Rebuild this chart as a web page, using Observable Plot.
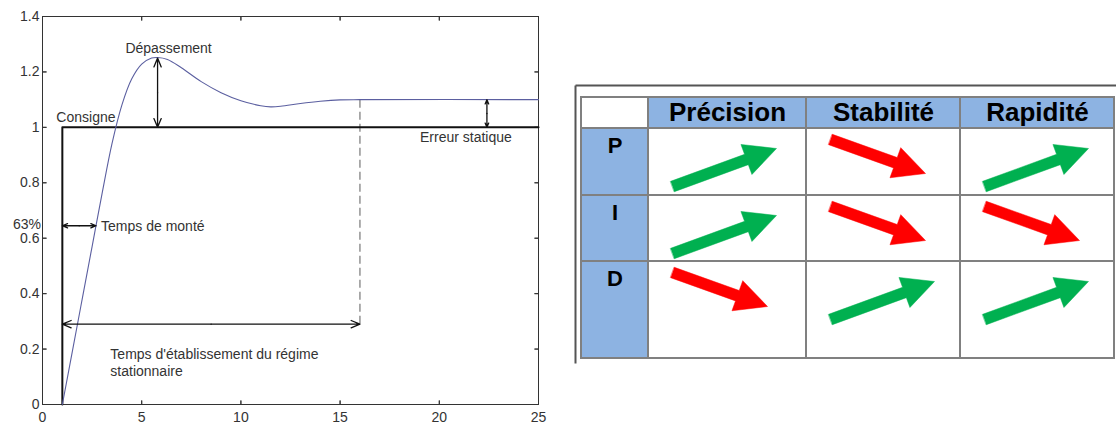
<!DOCTYPE html>
<html>
<head>
<meta charset="utf-8">
<script src="https://cdn.jsdelivr.net/npm/d3@7"></script>
<script src="https://cdn.jsdelivr.net/npm/@observablehq/plot@0.6"></script>
<style>
  body { margin: 0; background: #fff; }
  #page { position: relative; width: 1116px; height: 428px; overflow: hidden; background: #fff;
          font-family: "Liberation Sans", Arial, sans-serif; }
  #response { position: absolute; left: 0; top: 0; }
  #pid { position: absolute; left: 570px; top: 80px; }
</style>
</head>
<body>
<div id="page">
  <div id="response"></div>
  <div id="pid"></div>
</div>
<script>
// ---------- Step response of the closed loop ----------
const time   = [1, 1.5, 2, 2.5, 3, 3.5, 4, 4.5, 5, 5.5, 5.8, 6.3, 7, 8, 9, 10, 11, 11.5, 12, 13, 14, 15, 16, 25];
const output = [0, 0.19, 0.38, 0.57, 0.76, 0.94, 1.08, 1.175, 1.228, 1.25, 1.252, 1.245, 1.215, 1.165, 1.125, 1.096, 1.078, 1.074, 1.076, 1.086, 1.094, 1.099, 1.1, 1.1];

const xTicks = [0, 5, 10, 15, 20, 25];
const yTicks = [0, 0.2, 0.4, 0.6, 0.8, 1, 1.2, 1.4];

// Characteristic values of the response
const stepTime = 1;        // instant of the setpoint step
const setpoint = 1;        // consigne
const peakTime = 5.8;      // time of the overshoot peak
const peakValue = 1.25;    // overshoot peak
const finalValue = 1.1;    // steady-state value
const riseLevel = 0.645;   // 63 % level
const riseTime = 2.7;      // time the output reaches 63 %
const settlingTime = 16;   // end of the transient
const settlingLevel = 0.29;
const errorTime = 22.4;

// ---------- PID action table ----------
const criteria = ["Précision", "Stabilité", "Rapidité"];
const actions = ["P", "I", "D"];
// +1: the action improves the criterion, -1: it degrades it
const effects = [
  [+1, -1, +1],
  [+1, -1, -1],
  [-1, +1, +1]
];

// ---------- Chart 1: step response ----------
const curve = time.map((t, i) => ({t, v: output[i]}));
const step = [
  {t: stepTime, v: 0},
  {t: stepTime, v: setpoint},
  {t: xTicks[xTicks.length - 1], v: setpoint}
];
// double-headed dimension arrows, drawn as two arrows from their midpoint
const dimensions = [
  {x1: peakTime, y1: setpoint, x2: peakTime, y2: peakValue},
  {x1: stepTime, y1: riseLevel, x2: riseTime, y2: riseLevel},
  {x1: stepTime, y1: settlingLevel, x2: settlingTime, y2: settlingLevel},
  {x1: errorTime, y1: setpoint, x2: errorTime, y2: finalValue}
];
const halves = dimensions.flatMap(({x1, y1, x2, y2}) => {
  const mx = (x1 + x2) / 2, my = (y1 + y2) / 2;
  return [{x1: mx, y1: my, x2: x1, y2: y1}, {x1: mx, y1: my, x2: x2, y2: y2}];
});

const fmt = d3.format("~g");
const ink = "#333";
const tick = {length: 4, anchor: "start", shape: "spike", r: 0, stroke: ink, strokeWidth: 1};
const txt = {fontSize: 14, fill: ink};

const chart = Plot.plot({
  width: 560,
  height: 428,
  marginLeft: 42,
  marginRight: 22,
  marginTop: 16,
  marginBottom: 24,
  x: {domain: [0, 25]},
  y: {domain: [0, 1.4]},
  style: {fontFamily: '"Liberation Sans", Arial, sans-serif', fontSize: "14px", color: ink, background: "transparent", overflow: "visible"},
  marks: [
    Plot.axisX({ticks: xTicks, tickSize: 0, tickPadding: 8, label: null, tickFormat: fmt}),
    Plot.axisY({ticks: yTicks, tickSize: 0, tickPadding: 3, label: null, tickFormat: fmt}),
    // inward tick marks on the four sides of the box
    Plot.vector(xTicks, {x: d => d, y: 0, rotate: 0, ...tick}),
    Plot.vector(xTicks, {x: d => d, y: 1.4, rotate: 180, ...tick}),
    Plot.vector(yTicks, {x: 0, y: d => d, rotate: 90, ...tick}),
    Plot.vector(yTicks, {x: 25, y: d => d, rotate: 270, ...tick}),
    Plot.frame({stroke: ink, strokeWidth: 1}),
    // settling time marker
    Plot.link([settlingTime], {x1: d => d, x2: d => d, y1: finalValue, y2: settlingLevel - 0.006,
      stroke: "#777", strokeWidth: 1.2, strokeDasharray: "8,4"}),
    // setpoint step
    Plot.line(step, {x: "t", y: "v", stroke: "#111", strokeWidth: 2}),
    // measured output
    Plot.line(curve, {x: "t", y: "v", stroke: "#5b5fa0", strokeWidth: 1.1, curve: "catmull-rom"}),
    // dimension arrows
    Plot.arrow(halves, {x1: "x1", y1: "y1", x2: "x2", y2: "y2", stroke: "#111", strokeWidth: 1.3,
      headLength: 11, headAngle: 45}),
    // annotations
    Plot.text(["Dépassement"], {x: peakTime, y: peakValue, dx: 11, dy: -10, ...txt}),
    Plot.text(["Consigne"], {x: stepTime, y: setpoint, dx: -6, dy: -9.5, textAnchor: "start", ...txt}),
    Plot.text(["63%"], {x: 0, y: riseLevel, dx: -1.5, dy: -1.5, textAnchor: "end", ...txt}),
    Plot.text(["Temps de monté"], {x: riseTime, y: riseLevel, dx: 5, dy: 1, textAnchor: "start", ...txt}),
    Plot.text(["Temps d'établissement du régime\nstationnaire"], {x: stepTime, y: settlingLevel, dx: 48, dy: 23,
      textAnchor: "start", lineAnchor: "top", lineHeight: 1.19, ...txt}),
    Plot.text(["Erreur statique"], {x: errorTime, y: setpoint, dx: -21, dy: 10.5, ...txt})
  ]
});
document.getElementById("response").appendChild(chart);

// ---------- Chart 2: effect of each PID action ----------
const W2 = 546, H2 = 285;
const colW = [67, 158, 154, 154];
const rowH = [31, 67, 66, 97];
const x0 = 11, y0 = 17;
const colX = colW.reduce((a, w) => (a.push(a[a.length - 1] + w), a), [x0]);
const rowY = rowH.reduce((a, h) => (a.push(a[a.length - 1] + h), a), [y0]);
const blue = "#8db3e2", green = "#00b050", red = "#ff0000", grid = "#808080";

const cells = [];
for (let r = 0; r < 4; r++) {
  for (let c = 0; c < 4; c++) {
    cells.push({
      x1: colX[c], x2: colX[c + 1], y1: rowY[r], y2: rowY[r + 1],
      fill: (r === 0) !== (c === 0) ? blue : "#fff"
    });
  }
}
const headers = criteria.map((label, c) => ({label, x: (colX[c + 1] + colX[c + 2]) / 2, y: (rowY[0] + rowY[1]) / 2}));
const rowLabels = actions.map((label, r) => ({label, x: (colX[0] + colX[1]) / 2, y: rowY[r + 1]}));

// block arrow outline: shaft half-width, head half-width, head length
const SHAFT = 5.5, HEAD_W = 16, HEAD_L = 32;
function blockArrow(id, ax, ay, bx, by) {
  const len = Math.hypot(bx - ax, by - ay);
  const ux = (bx - ax) / len, uy = (by - ay) / len, nx = -uy, ny = ux;
  const cx = bx - ux * HEAD_L, cy = by - uy * HEAD_L;
  return [
    [ax + nx * SHAFT, ay + ny * SHAFT],
    [cx + nx * SHAFT, cy + ny * SHAFT],
    [cx + nx * HEAD_W, cy + ny * HEAD_W],
    [bx, by],
    [cx - nx * HEAD_W, cy - ny * HEAD_W],
    [cx - nx * SHAFT, cy - ny * SHAFT],
    [ax - nx * SHAFT, ay - ny * SHAFT]
  ].map(([x, y]) => ({id, x, y}));
}
// rising arrow for an improvement, falling arrow for a degradation (offsets inside a cell)
const upShape = [24, 58, 128, 20];
const downShape = [24, 11, 119, 45];
const upPts = [], downPts = [];
effects.forEach((row, r) => row.forEach((e, c) => {
  const [a, b, p, q] = e > 0 ? upShape : downShape;
  const cx = colX[c + 1], cy = rowY[r + 1];
  (e > 0 ? upPts : downPts).push(...blockArrow(`${r}-${c}`, cx + a, cy + b, cx + p, cy + q));
}));

const table = Plot.plot({
  width: W2,
  height: H2,
  margin: 0,
  x: {domain: [0, W2], range: [0, W2], axis: null},
  y: {domain: [0, H2], range: [0, H2], axis: null},
  style: {fontFamily: '"Liberation Sans", Arial, sans-serif', background: "transparent", overflow: "visible"},
  marks: [
    // outer frame
    Plot.link([0], {x1: 5, x2: W2, y1: 5, y2: 5, stroke: "#555", strokeWidth: 2}),
    Plot.link([0], {x1: 5, x2: 5, y1: 5, y2: 283, stroke: "#555", strokeWidth: 2}),
    Plot.rect(cells, {x1: "x1", x2: "x2", y1: "y1", y2: "y2", fill: "fill", stroke: grid, strokeWidth: 2}),
    Plot.text(headers, {x: "x", y: "y", text: "label", fontSize: 26, fontWeight: "bold", fill: "#000"}),
    Plot.text(rowLabels, {x: "x", y: "y", text: "label", dy: 9, lineAnchor: "top", fontSize: 22, fontWeight: "bold", fill: "#000"}),
    Plot.line(upPts, {x: "x", y: "y", z: "id", fill: green, stroke: green, strokeWidth: 0.5, curve: "linear-closed"}),
    Plot.line(downPts, {x: "x", y: "y", z: "id", fill: red, stroke: red, strokeWidth: 0.5, curve: "linear-closed"})
  ]
});
document.getElementById("pid").appendChild(table);
</script>
</body>
</html>
